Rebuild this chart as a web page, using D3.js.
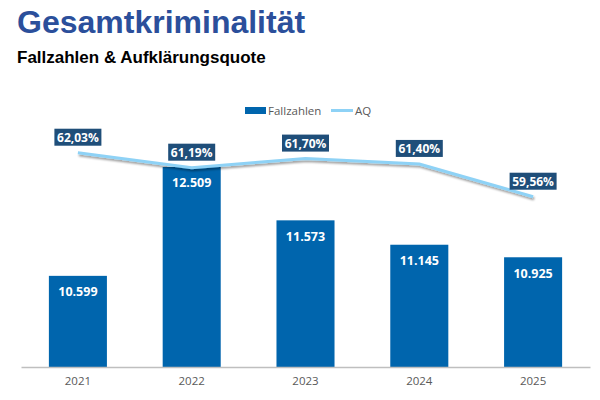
<!DOCTYPE html>
<html><head><meta charset="utf-8">
<script src="https://cdn.jsdelivr.net/npm/d3@7"></script>
<style>body{margin:0;background:#fff}svg{display:block}</style>
</head><body>
<svg id="c" width="600" height="400"></svg>
<script>
const years = ["2021","2022","2023","2024","2025"];
const fallzahlen = [10599, 12509, 11573, 11145, 10925];
const aq = [62.03, 61.19, 61.70, 61.40, 59.56];
const titleText = "Gesamtkriminalität";
const subtitleText = "Fallzahlen & Aufklärungsquote";
const legendLabels = ["Fallzahlen", "AQ"];

const svg = d3.select("#c");
const defs = svg.append("defs");
const f = defs.append("filter").attr("id","sh").attr("x","-10%").attr("y","-50%").attr("width","120%").attr("height","300%");
f.append("feDropShadow").attr("dx",1).attr("dy",2).attr("stdDeviation",1).attr("flood-color","#000").attr("flood-opacity",0.4);

const barColor = "#0065AD", lineColor = "#8ED2F6", boxColor = "#1F4E79", textGray = "#595959";
const font = "'Open Sans', 'Noto Sans', sans-serif";

svg.append("text").attr("x",17).attr("y",33).text(titleText)
  .attr("font-family","'Liberation Sans', Arial, sans-serif").attr("font-weight","bold")
  .attr("font-size",32).attr("fill","#2B4F9B");
svg.append("text").attr("x",17).attr("y",63).text(subtitleText)
  .attr("font-family","'Liberation Sans', Arial, sans-serif").attr("font-weight","bold")
  .attr("font-size",17).attr("fill","#000");

const x = d3.scaleBand().domain(years).range([21,590]).paddingInner(0.49).paddingOuter(0.245);
const y = d3.scaleLinear().domain([9000,14000]).range([367,82]);
const y2 = d3.scaleLinear().domain([50,66]).range([367,82]);

// bars
svg.append("g").selectAll("rect").data(years).join("rect")
  .attr("x",d=>x(d)).attr("width",x.bandwidth())
  .attr("y",(d,i)=>y(fallzahlen[i])).attr("height",(d,i)=>y.range()[0]-y(fallzahlen[i]))
  .attr("fill",barColor);

// axis
const ax = svg.append("g").attr("transform","translate(0,367)").call(d3.axisBottom(x).tickSize(0).tickPadding(10));
ax.select(".domain").attr("stroke","#BFBFBF").attr("stroke-width",1.3);
ax.selectAll("text").attr("font-family",font).attr("font-size",11.5).attr("fill",textGray);

// bar labels
const fmt = v => d3.format(",")(v).replace(/,/g,".");
svg.append("g").selectAll("text").data(years).join("text")
  .attr("x",d=>x(d)+x.bandwidth()/2).attr("y",(d,i)=>y(fallzahlen[i])+20.5)
  .attr("text-anchor","middle").attr("font-family",font).attr("font-weight","bold")
  .attr("font-size",12.5).attr("fill","#fff").text((d,i)=>fmt(fallzahlen[i]));

// line
const line = d3.line().x((d,i)=>x(years[i])+x.bandwidth()/2).y(d=>y2(d));
svg.append("path").datum(aq).attr("d",line).attr("fill","none")
  .attr("stroke",lineColor).attr("stroke-width",3).attr("filter","url(#sh)");

// AQ labels
const lg = svg.append("g").selectAll("g").data(aq).join("g")
  .attr("transform",(d,i)=>`translate(${x(years[i])+x.bandwidth()/2},${y2(d)-7})`);
lg.append("rect").attr("x",-23.5).attr("y",-17).attr("width",47).attr("height",17).attr("fill",boxColor);
lg.append("text").attr("y",-4).attr("text-anchor","middle").attr("font-family",font)
  .attr("font-weight","bold").attr("font-size",12).attr("fill","#fff")
  .text(d=>d.toFixed(2).replace(".",",")+"%");

// legend
const leg = svg.append("g");
leg.append("rect").attr("x",245).attr("y",107).attr("width",21).attr("height",7).attr("fill",barColor);
leg.append("text").attr("x",268).attr("y",115).text(legendLabels[0])
  .attr("font-family",font).attr("font-size",11.5).attr("fill",textGray);
leg.append("line").attr("x1",331).attr("x2",353).attr("y1",110.5).attr("y2",110.5)
  .attr("stroke",lineColor).attr("stroke-width",3);
leg.append("text").attr("x",355).attr("y",115).text(legendLabels[1])
  .attr("font-family",font).attr("font-size",11.5).attr("fill",textGray);
</script>
</body></html>
